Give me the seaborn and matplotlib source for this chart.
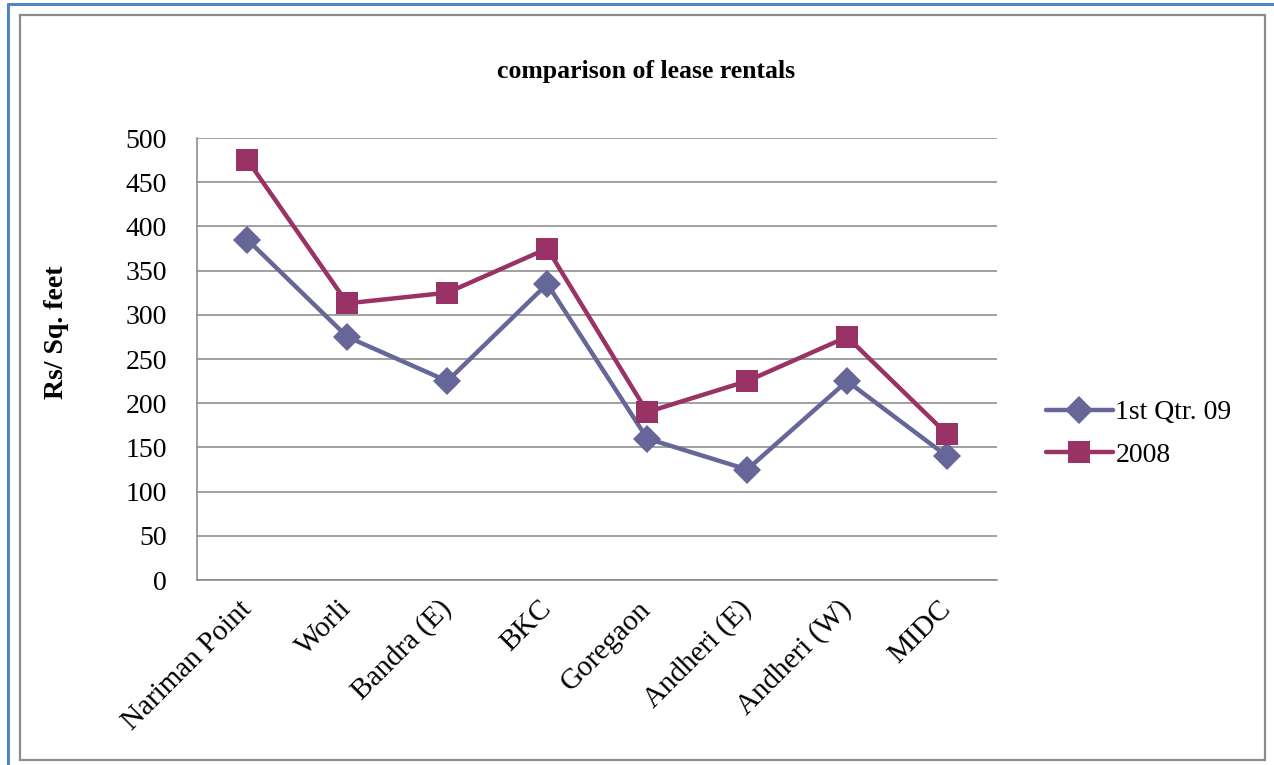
import pandas as pd
import matplotlib.pyplot as plt
import seaborn as sns
from matplotlib.lines import Line2D
from matplotlib.patches import Rectangle

# Data (Rs per sq. feet)
locations = ["Nariman Point", "Worli", "Bandra (E)", "BKC", "Goregaon",
             "Andheri (E)", "Andheri (W)", "MIDC"]
qtr1_09 = [385, 275, 225, 335, 160, 125, 225, 140]
year_2008 = [475, 313, 325, 375, 190, 225, 275, 165]
series_names = ["1st Qtr. 09", "2008"]
y_ticks = [0, 50, 100, 150, 200, 250, 300, 350, 400, 450, 500]

df = pd.DataFrame({
    "Location": locations * 2,
    "Rent": qtr1_09 + year_2008,
    "Series": [series_names[0]] * len(locations) + [series_names[1]] * len(locations),
})

sns.set_style("white")
plt.rcParams["font.family"] = ["Liberation Serif", "DejaVu Serif"]
plt.rcParams["text.color"] = "black"
plt.rcParams["xtick.color"] = "black"
plt.rcParams["ytick.color"] = "black"

fig = plt.figure(figsize=(12.74, 7.65), dpi=100)
ax = fig.add_axes([0.155, 0.2418, 0.6276, 0.5778])

colors = {"1st Qtr. 09": "#666699", "2008": "#993366"}
sns.lineplot(data=df, x="Location", y="Rent", hue="Series", style="Series",
             palette=colors, markers={"1st Qtr. 09": "D", "2008": "s"},
             dashes=False, sort=False, linewidth=3.2, markersize=14,
             markeredgewidth=0, ax=ax)

# marker sizes per series
for line in ax.lines:
    if line.get_marker() == "s":
        line.set_markersize(16.5)

ax.set_xlim(-0.5, len(locations) - 0.5)
ax.set_ylim(0, 500)
ax.set_yticks(y_ticks)
ax.yaxis.grid(True, color="#868686", linewidth=1.1)
ax.set_axisbelow(True)
for side in ["top", "right"]:
    ax.spines[side].set_visible(False)
for side in ["left", "bottom"]:
    ax.spines[side].set_color("#868686")
    ax.spines[side].set_linewidth(1.1)
ax.tick_params(axis="both", length=0, labelsize=20, labelcolor="black")
ax.tick_params(axis="y", pad=22)
ax.set_xticks(range(len(locations)))
ax.set_xticklabels(locations, rotation=45, ha="right", va="center",
                   rotation_mode="anchor", fontsize=21)
ax.tick_params(axis="x", pad=18)
ax.set_xlabel("")
ax.set_ylabel("")

handles, labels = ax.get_legend_handles_labels()
ax.get_legend().remove()
fig.legend(handles, labels, loc="center left", bbox_to_anchor=(0.821, 0.433),
           frameon=False, fontsize=20, handlelength=2.4, handletextpad=0.1,
           labelspacing=0.6, borderpad=0, borderaxespad=0)

fig.text(0.507, 0.906, "comparison of lease rentals", ha="center", va="center",
         fontsize=18.5, fontweight="bold")
fig.text(0.044, 1 - 332 / 765, "Rs/ Sq. feet", rotation=90, ha="center",
         va="center", fontsize=20, fontweight="bold")

# page frame around the chart
fig.add_artist(Rectangle((20 / 1274, 5 / 765), 1245 / 1274, 745 / 765,
                         transform=fig.transFigure, fill=False,
                         edgecolor="#8c8c8c", linewidth=1.6))
fig.add_artist(Line2D([8 / 1274, 8 / 1274], [0, 1 - 4 / 765],
                      transform=fig.transFigure, color="#4f86c6", linewidth=2.2))
fig.add_artist(Line2D([8 / 1274, 1], [1 - 4 / 765, 1 - 4 / 765],
                      transform=fig.transFigure, color="#4f86c6", linewidth=2.2))

plt.savefig("out.png", dpi=100)
